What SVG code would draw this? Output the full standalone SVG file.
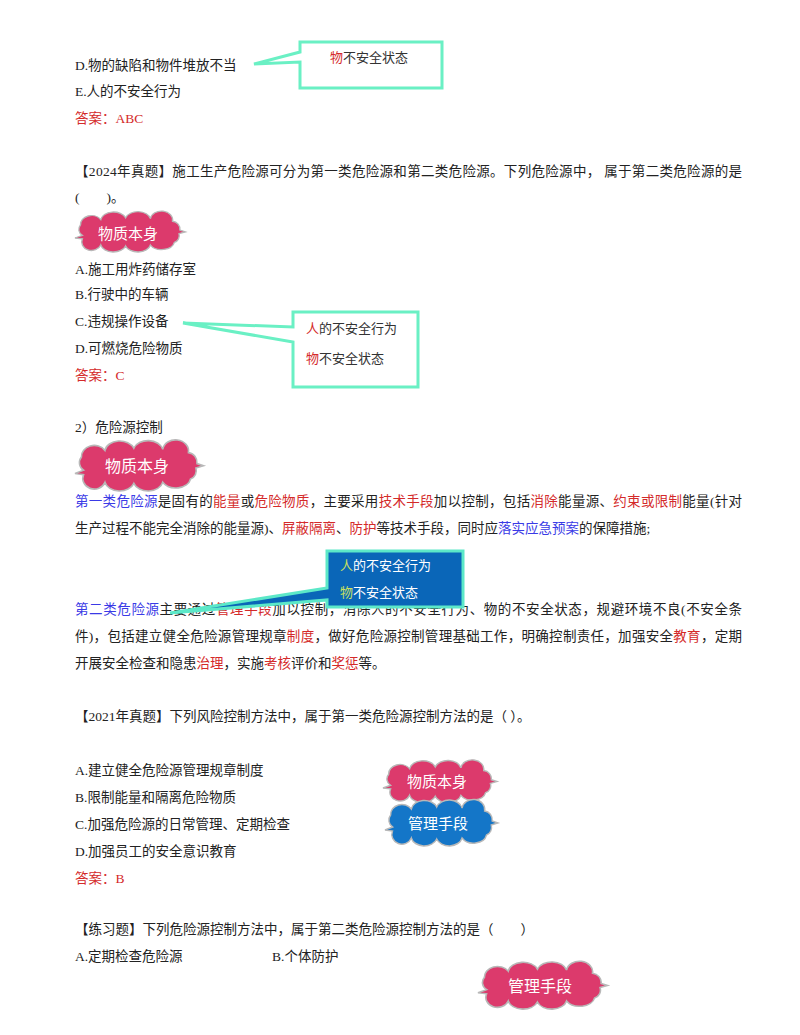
<svg xmlns="http://www.w3.org/2000/svg" width="800" height="1035" viewBox="0 0 800 1035">
<style>
text{font-family:"Liberation Serif","Noto Sans CJK SC",serif;font-size:13.5px;fill:#222}
.r{fill:#d42a2a}.b{fill:#3a3ae6}
.ct{font-family:"Noto Sans CJK SC",sans-serif;font-size:13px;fill:#333}
.cw{font-family:"Noto Sans CJK SC",sans-serif;font-size:13px;fill:#fff}
.cl{font-family:"Noto Sans CJK SC",sans-serif;font-size:15px;fill:#fff;text-anchor:middle}
.call{fill:#fff;stroke:#6af0c4;stroke-width:3;stroke-linejoin:miter}
.pink{fill:#dc3a6c;stroke:#b8b8b8;stroke-width:1.5}
.blue{fill:#1476c8;stroke:#b8b8b8;stroke-width:1.5}
</style>
<defs>
<path id="cloud" d="M8,22 A8,8 0 0 1 6,10 A12,10 0 0 1 28,4 A14,10 0 0 1 55,2 A14,10 0 0 1 82,3 A12,10 0 0 1 106,6 A9,9 0 0 1 114,16 L120,18 L113,20 A8,8 0 0 1 108,30 A14,10 0 0 1 82,33 A14,10 0 0 1 55,34 A14,10 0 0 1 28,33 A10,9 0 0 1 8,26 L0,25 Z"/>
</defs>
<rect width="800" height="1035" fill="#fff"/>
<g id="text">
<text x="75" y="70">D.物的缺陷和物件堆放不当</text>
<text x="75" y="96">E.人的不安全行为</text>
<text x="75" y="123" class="r">答案：ABC</text>
<text x="75" y="176" textLength="667" lengthAdjust="spacing">【2024年真题】施工生产危险源可分为第一类危险源和第二类危险源。下列危险源中， 属于第二类危险源的是</text>
<text x="75" y="202">(　　)。</text>
<text x="75" y="274">A.施工用炸药储存室</text>
<text x="75" y="299">B.行驶中的车辆</text>
<text x="75" y="326">C.违规操作设备</text>
<text x="75" y="353">D.可燃烧危险物质</text>
<text x="75" y="380" class="r">答案：C</text>
<text x="75" y="432">2）危险源控制</text>
<text x="75" y="506" textLength="667" lengthAdjust="spacing"><tspan class="b">第一类危险源</tspan>是固有的<tspan class="r">能量</tspan>或<tspan class="r">危险物质</tspan>，主要采用<tspan class="r">技术手段</tspan>加以控制，包括<tspan class="r">消除</tspan>能量源、<tspan class="r">约束或限制</tspan>能量(针对</text>
<text x="75" y="533">生产过程不能完全消除的能量源)、<tspan class="r">屏蔽隔离</tspan>、<tspan class="r">防护</tspan>等技术手段，同时应<tspan class="b">落实应急预案</tspan>的保障措施;</text>
<text x="75" y="614" textLength="667" lengthAdjust="spacing"><tspan class="b">第二类危险源</tspan>主要通过<tspan class="r">管理手段</tspan>加以控制，消除人的不安全行为、物的不安全状态，规避环境不良(不安全条</text>
<text x="75" y="641" textLength="667" lengthAdjust="spacing">件)，包括建立健全危险源管理规章<tspan class="r">制度</tspan>，做好危险源控制管理基础工作，明确控制责任，加强安全<tspan class="r">教育</tspan>，定期</text>
<text x="75" y="668">开展安全检查和隐患<tspan class="r">治理</tspan>，实施<tspan class="r">考核</tspan>评价和<tspan class="r">奖惩</tspan>等。</text>
<text x="75" y="721">【2021年真题】下列风险控制方法中，属于第一类危险源控制方法的是（ ）。</text>
<text x="75" y="775">A.建立健全危险源管理规章制度</text>
<text x="75" y="802">B.限制能量和隔离危险物质</text>
<text x="75" y="829">C.加强危险源的日常管理、定期检查</text>
<text x="75" y="856">D.加强员工的安全意识教育</text>
<text x="75" y="883" class="r">答案：B</text>
<text x="75" y="934">【练习题】下列危险源控制方法中，属于第二类危险源控制方法的是（　　）</text>
<text x="75" y="961">A.定期检查危险源</text>
<text x="272" y="961">B.个体防护</text>
</g>
<g id="connectors">
<path class="call" d="M300,42 H442 V88 H300 V62 L254,64 L300,52 Z"/>
<path class="call" d="M293,312 H418 V387 H293 V342 L183,323 L293,327 Z"/>
<path class="call" style="fill:#0a66b8;stroke:#5ce8c8" d="M327,551 H463 V607 H327 V600 L170,613 L327,588 Z"/>
</g>
<g id="callout1"><text class="ct" x="330" y="62"><tspan class="r">物</tspan>不安全状态</text></g>
<g id="callout2">
<text class="ct" x="306" y="333"><tspan class="r">人</tspan>的不安全行为</text>
<text class="ct" x="306" y="363"><tspan class="r">物</tspan>不安全状态</text>
</g>
<g id="callout3">
<text class="cw" x="340" y="570"><tspan style="fill:#c8e060">人</tspan>的不安全行为</text>
<text class="cw" x="340" y="597"><tspan style="fill:#c8e060">物</tspan>不安全状态</text>
</g>
<g id="cloud1"><use href="#cloud" class="pink" transform="translate(75,216) scale(0.92,0.88)"/><text class="cl" x="128" y="239">物质本身</text></g>
<g id="cloud2"><use href="#cloud" class="pink" transform="translate(75,446) scale(1.07,1.1)"/><text class="cl" x="137" y="472" style="font-size:16px">物质本身</text></g>
<g id="cloud3"><use href="#cloud" class="pink" transform="translate(383,765) scale(0.95,0.92)"/><text class="cl" x="437" y="787">物质本身</text></g>
<g id="cloud4"><use href="#cloud" class="blue" transform="translate(385,805) scale(0.94,1.0)"/><text class="cl" x="438" y="829">管理手段</text></g>
<g id="cloud5"><use href="#cloud" class="pink" transform="translate(478,967) scale(1.08,1.03)"/><text class="cl" x="540" y="992" style="font-size:16px">管理手段</text></g>
</svg>
